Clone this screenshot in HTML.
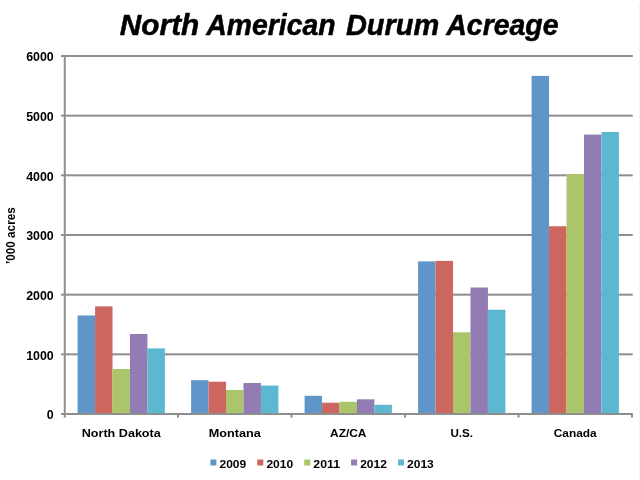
<!DOCTYPE html>
<html><head><meta charset="utf-8"><style>
html,body{margin:0;padding:0;background:#fff;width:640px;height:480px;overflow:hidden}
svg{display:block;will-change:transform;font-family:"Liberation Sans",sans-serif}
</style></head><body>
<svg width="640" height="480" viewBox="0 0 640 480" fill="#000">
<rect x="61" y="353.33" width="571.75" height="2" fill="#8E8E8E"/>
<rect x="61" y="293.67" width="571.75" height="2" fill="#8E8E8E"/>
<rect x="61" y="234.00" width="571.75" height="2" fill="#8E8E8E"/>
<rect x="61" y="174.33" width="571.75" height="2" fill="#8E8E8E"/>
<rect x="61" y="114.66" width="571.75" height="2" fill="#8E8E8E"/>
<rect x="61" y="55.00" width="571.75" height="2" fill="#8E8E8E"/>
<rect x="77.60" y="315.50" width="17.46" height="98.50" fill="#5F95C8"/>
<rect x="95.06" y="306.40" width="17.46" height="107.60" fill="#CC665E"/>
<rect x="112.52" y="369.00" width="17.46" height="45.00" fill="#ABC56A"/>
<rect x="129.98" y="334.00" width="17.46" height="80.00" fill="#937CB3"/>
<rect x="147.44" y="348.40" width="17.46" height="65.60" fill="#5BB8D0"/>
<rect x="191.10" y="380.20" width="17.46" height="33.80" fill="#5F95C8"/>
<rect x="208.56" y="381.70" width="17.46" height="32.30" fill="#CC665E"/>
<rect x="226.02" y="390.00" width="17.46" height="24.00" fill="#ABC56A"/>
<rect x="243.48" y="383.00" width="17.46" height="31.00" fill="#937CB3"/>
<rect x="260.94" y="385.60" width="17.46" height="28.40" fill="#5BB8D0"/>
<rect x="304.60" y="395.80" width="17.46" height="18.20" fill="#5F95C8"/>
<rect x="322.06" y="402.70" width="17.46" height="11.30" fill="#CC665E"/>
<rect x="339.52" y="401.80" width="17.46" height="12.20" fill="#ABC56A"/>
<rect x="356.98" y="399.30" width="17.46" height="14.70" fill="#937CB3"/>
<rect x="374.44" y="404.80" width="17.46" height="9.20" fill="#5BB8D0"/>
<rect x="418.10" y="261.40" width="17.46" height="152.60" fill="#5F95C8"/>
<rect x="435.56" y="260.90" width="17.46" height="153.10" fill="#CC665E"/>
<rect x="453.02" y="332.30" width="17.46" height="81.70" fill="#ABC56A"/>
<rect x="470.48" y="287.50" width="17.46" height="126.50" fill="#937CB3"/>
<rect x="487.94" y="309.70" width="17.46" height="104.30" fill="#5BB8D0"/>
<rect x="531.60" y="75.90" width="17.46" height="338.10" fill="#5F95C8"/>
<rect x="549.06" y="226.25" width="17.46" height="187.75" fill="#CC665E"/>
<rect x="566.52" y="174.25" width="17.46" height="239.75" fill="#ABC56A"/>
<rect x="583.98" y="134.55" width="17.46" height="279.45" fill="#937CB3"/>
<rect x="601.44" y="132.00" width="17.46" height="282.00" fill="#5BB8D0"/>
<rect x="61" y="413.00" width="571.75" height="2" fill="#8E8E8E"/>
<rect x="63.75" y="55.00" width="2" height="362.60" fill="#8E8E8E"/>
<rect x="177.00" y="414.00" width="2" height="3.6" fill="#8E8E8E"/>
<rect x="290.50" y="414.00" width="2" height="3.6" fill="#8E8E8E"/>
<rect x="404.00" y="414.00" width="2" height="3.6" fill="#8E8E8E"/>
<rect x="517.50" y="414.00" width="2" height="3.6" fill="#8E8E8E"/>
<rect x="631.00" y="414.00" width="2" height="3.6" fill="#8E8E8E"/>
<text x="53.75" y="419.20" text-anchor="end" font-size="12.5" font-weight="bold" textLength="6.9" lengthAdjust="spacingAndGlyphs">0</text>
<text x="53.75" y="359.53" text-anchor="end" font-size="12.5" font-weight="bold" textLength="27.6" lengthAdjust="spacingAndGlyphs">1000</text>
<text x="53.75" y="299.87" text-anchor="end" font-size="12.5" font-weight="bold" textLength="27.6" lengthAdjust="spacingAndGlyphs">2000</text>
<text x="53.75" y="240.20" text-anchor="end" font-size="12.5" font-weight="bold" textLength="27.6" lengthAdjust="spacingAndGlyphs">3000</text>
<text x="53.75" y="180.53" text-anchor="end" font-size="12.5" font-weight="bold" textLength="27.6" lengthAdjust="spacingAndGlyphs">4000</text>
<text x="53.75" y="120.86" text-anchor="end" font-size="12.5" font-weight="bold" textLength="27.6" lengthAdjust="spacingAndGlyphs">5000</text>
<text x="53.75" y="61.20" text-anchor="end" font-size="12.5" font-weight="bold" textLength="27.6" lengthAdjust="spacingAndGlyphs">6000</text>
<text x="81.75" y="436.9" font-size="11" font-weight="bold" textLength="79" lengthAdjust="spacingAndGlyphs">North Dakota</text>
<text x="208.75" y="436.9" font-size="11" font-weight="bold" textLength="52" lengthAdjust="spacingAndGlyphs">Montana</text>
<text x="330.00" y="436.9" font-size="11" font-weight="bold" textLength="36.5" lengthAdjust="spacingAndGlyphs">AZ/CA</text>
<text x="450.40" y="436.9" font-size="11" font-weight="bold" textLength="22.7" lengthAdjust="spacingAndGlyphs">U.S.</text>
<text x="553.80" y="436.9" font-size="11" font-weight="bold" textLength="42.9" lengthAdjust="spacingAndGlyphs">Canada</text>
<rect x="210.40" y="459.5" width="6" height="6" fill="#5F95C8"/>
<text x="219.50" y="468.0" font-size="11" font-weight="bold" textLength="26.7" lengthAdjust="spacingAndGlyphs">2009</text>
<rect x="257.30" y="459.5" width="6" height="6" fill="#CC665E"/>
<text x="266.40" y="468.0" font-size="11" font-weight="bold" textLength="26.7" lengthAdjust="spacingAndGlyphs">2010</text>
<rect x="304.20" y="459.5" width="6" height="6" fill="#ABC56A"/>
<text x="313.30" y="468.0" font-size="11" font-weight="bold" textLength="26.7" lengthAdjust="spacingAndGlyphs">2011</text>
<rect x="351.10" y="459.5" width="6" height="6" fill="#937CB3"/>
<text x="360.20" y="468.0" font-size="11" font-weight="bold" textLength="26.7" lengthAdjust="spacingAndGlyphs">2012</text>
<rect x="398.00" y="459.5" width="6" height="6" fill="#5BB8D0"/>
<text x="407.10" y="468.0" font-size="11" font-weight="bold" textLength="26.7" lengthAdjust="spacingAndGlyphs">2013</text>
<text transform="translate(14.8,263.9) rotate(-90)" x="0" y="0" font-size="12.2" font-weight="bold" textLength="56.6" lengthAdjust="spacingAndGlyphs">’000 acres</text>
<text x="119.80" y="35" font-size="29.5" font-weight="bold" font-style="italic" stroke="#000" stroke-width="0.5" textLength="79.50" lengthAdjust="spacingAndGlyphs">North</text>
<text x="206.30" y="35" font-size="29.5" font-weight="bold" font-style="italic" stroke="#000" stroke-width="0.5" textLength="129.30" lengthAdjust="spacingAndGlyphs">American</text>
<text x="345.90" y="35" font-size="29.5" font-weight="bold" font-style="italic" stroke="#000" stroke-width="0.5" textLength="93.40" lengthAdjust="spacingAndGlyphs">Durum</text>
<text x="446.30" y="35" font-size="29.5" font-weight="bold" font-style="italic" stroke="#000" stroke-width="0.5" textLength="112.20" lengthAdjust="spacingAndGlyphs">Acreage</text>
<rect x="639" y="4" width="1" height="476" fill="#F4F4F4"/>
</svg>
</body></html>
